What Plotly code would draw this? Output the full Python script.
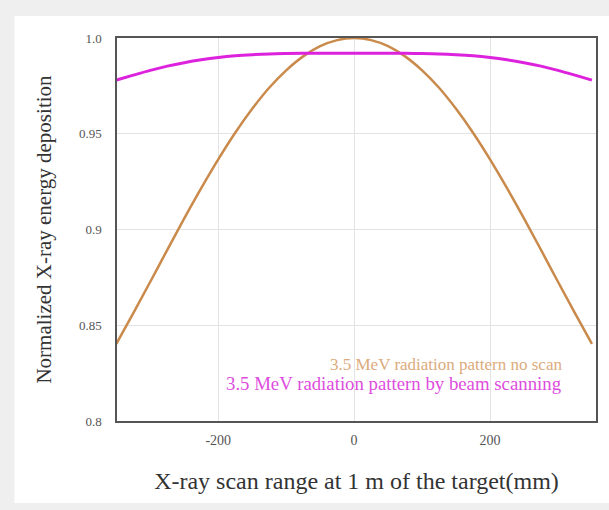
import plotly.graph_objects as go

x_mm = [-350, -325, -300, -275, -250, -225, -200, -175, -150, -125, -100, -75, -50, -25,
        0, 25, 50, 75, 100, 125, 150, 175, 200, 225, 250, 275, 300, 325, 350]
no_scan = [0.8403, 0.8563, 0.8727, 0.8894, 0.9058, 0.9216, 0.9366, 0.9505, 0.9630, 0.9740, 0.9831, 0.9904, 0.9957, 0.9989,
           1.0000, 0.9989, 0.9957, 0.9904, 0.9831, 0.9740, 0.9630, 0.9505, 0.9366, 0.9216, 0.9058, 0.8894, 0.8727, 0.8563, 0.8403]
beam_scan = [0.9780, 0.9806, 0.9831, 0.9853, 0.9871, 0.9886, 0.9898, 0.9907, 0.9913, 0.9917, 0.9919, 0.9920, 0.9920, 0.9920,
             0.9920, 0.9920, 0.9920, 0.9920, 0.9919, 0.9917, 0.9913, 0.9907, 0.9898, 0.9886, 0.9871, 0.9853, 0.9831, 0.9806, 0.9780]
x_ticks = [-200, 0, 200]
y_ticks = [0.8, 0.85, 0.9, 0.95, 1.0]
y_tick_text = ["0.8", "0.85", "0.9", "0.95", "1.0"]

SERIF = "Liberation Serif, Times New Roman, serif"
ORANGE = "#c98a4b"
MAGENTA = "#dd22dd"

fig = go.Figure()
fig.add_trace(go.Scatter(x=x_mm, y=no_scan, mode="lines", line=dict(color=ORANGE, width=2.5, shape="spline"),
                         showlegend=False))
fig.add_trace(go.Scatter(x=x_mm, y=beam_scan, mode="lines", line=dict(color=MAGENTA, width=3, shape="spline"),
                         showlegend=False))

L, R, T, B = 117, 11, 38, 89
W, H = 609, 510
pw, ph = W - L - R, H - T - B

def px_to_paper_x(px):
    return (px - L) / pw

def px_to_paper_y(py):
    return (H - B - py) / ph

fig.add_shape(type="rect", xref="paper", yref="paper", layer="below",
              x0=px_to_paper_x(14), x1=px_to_paper_x(612), y0=px_to_paper_y(503), y1=px_to_paper_y(16),
              fillcolor="white", line=dict(width=0))

fig.add_annotation(xref="paper", yref="paper", x=px_to_paper_x(566), y=px_to_paper_y(364),
                   text="3.5 MeV radiation pattern no scan", showarrow=False, xanchor="right", yanchor="middle",
                   font=dict(family=SERIF, size=17, color="#dcab7d"))
fig.add_annotation(xref="paper", yref="paper", x=px_to_paper_x(566), y=px_to_paper_y(383),
                   text="3.5 MeV radiation pattern by beam scanning", showarrow=False, xanchor="right",
                   yanchor="middle", font=dict(family=SERIF, size=18.8, color="#dd4ddd"))

fig.update_layout(
    width=W, height=H,
    margin=dict(l=L, r=R, t=T, b=B),
    paper_bgcolor="#efefef",
    plot_bgcolor="white",
    xaxis=dict(range=[-349, 356], tickvals=x_ticks, ticktext=[str(v) for v in x_ticks],
               showgrid=True, gridcolor="#e3e3e3", gridwidth=1, zeroline=False,
               showline=True, linecolor="#555555", linewidth=1.5, mirror=True, ticks="",
               tickfont=dict(family=SERIF, size=14, color="#555555"), ticklabelstandoff=5,
               title=dict(text="X-ray scan range at 1 m of the target(mm)",
                          font=dict(family=SERIF, size=24, color="#333333"), standoff=26)),
    yaxis=dict(range=[0.8, 1.0], tickvals=y_ticks, ticktext=y_tick_text,
               showgrid=True, gridcolor="#e3e3e3", gridwidth=1, zeroline=False,
               showline=True, linecolor="#555555", linewidth=1.5, mirror=True, ticks="",
               tickfont=dict(family=SERIF, size=13, color="#555555"), ticklabelstandoff=11,
               title=dict(text="Normalized X-ray energy deposition",
                          font=dict(family=SERIF, size=21, color="#333333"), standoff=22)),
)

fig.write_html("out.html")
